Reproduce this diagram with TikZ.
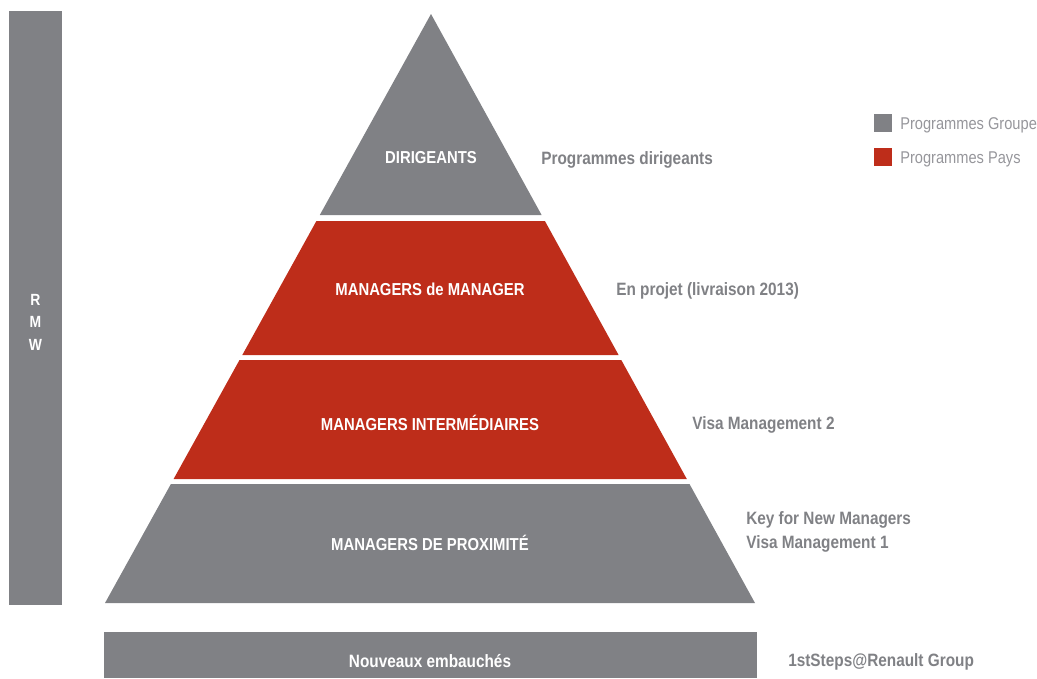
\documentclass[tikz,border=0pt]{standalone}
\usepackage{fontspec}
\setmainfont[FakeStretch=0.86]{Liberation Sans}
\usepackage{tikz}

\definecolor{grp}{RGB}{128,129,133}
\definecolor{pays}{RGB}{190,45,26}
\definecolor{legtxt}{RGB}{150,150,155}

\begin{document}
\begin{tikzpicture}[x=0.025cm, y=-0.025cm]
        \useasboundingbox (0,0) rectangle (1037,678);
        % left bar
        \fill [grp] (9,11) rectangle (62,605);
        \node [white, font=\bfseries\fontsize{11.5}{16}\selectfont, align=center] (rmw) at (35.5,322) {R\\M\\W};
        % pyramid
        \fill [grp] (431,14) -- (541.6,215) -- (319.8,215) -- cycle;
        \fill [pays] (316.4,221) -- (544.9,221) -- (618.6,355) -- (242.3,355) -- cycle;
        \fill [pays] (239.5,360) -- (621.3,360) -- (686.8,479) -- (173.6,479) -- cycle;
        \fill [grp] (170.9,484) -- (689.5,484) -- (755,603) -- (105,603) -- cycle;
        \node [white, font=\bfseries\fontsize{12.3}{14}\selectfont] (dir) at (431,158) {DIRIGEANTS};
        \node [white, font=\bfseries\fontsize{12.3}{14}\selectfont] (mdm) at (430,289) {MANAGERS de MANAGER};
        \node [white, font=\bfseries\fontsize{12.3}{14}\selectfont] (mint) at (430,423) {MANAGERS INTERMÉDIAIRES};
        \node [white, font=\bfseries\fontsize{12.3}{14}\selectfont] (mprox) at (430,543) {MANAGERS DE PROXIMITÉ};
        % bottom bar
        \fill [grp] (104,632) rectangle (757,678);
        \node [white, font=\bfseries\fontsize{12.7}{14}\selectfont] (nouv) at (430,661) {Nouveaux embauchés};
        % programmes
        \node [grp, right, inner sep=0pt, font=\bfseries\fontsize{12.7}{14}\selectfont] (pdir) at (541,160) {Programmes dirigeants};
        \node [grp, right, inner sep=0pt, font=\bfseries\fontsize{12.7}{14}\selectfont] (proj) at (616,291) {En projet (livraison 2013)};
        \node [grp, right, inner sep=0pt, font=\bfseries\fontsize{12.7}{14}\selectfont] (visa2) at (692,425) {Visa Management 2};
        \node [grp, right, inner sep=0pt, align=left, font=\bfseries\fontsize{12.7}{16.5}\selectfont] (visa1) at (746,532) {Key for New Managers\\Visa Management 1};
        \node [grp, right, inner sep=0pt, font=\bfseries\fontsize{12.7}{14}\selectfont] (steps) at (788,662) {1stSteps@Renault Group};
        % legend
        \fill [grp] (874,114) rectangle (892,132);
        \fill [pays] (874,148) rectangle (892,166);
        \node [legtxt, right, inner sep=0pt, font=\fontsize{12.1}{14}\selectfont] (lgrp) at (900,125) {Programmes Groupe};
        \node [legtxt, right, inner sep=0pt, font=\fontsize{12.1}{14}\selectfont] (lpays) at (900,159) {Programmes Pays};
    \end{tikzpicture}
\end{document}
